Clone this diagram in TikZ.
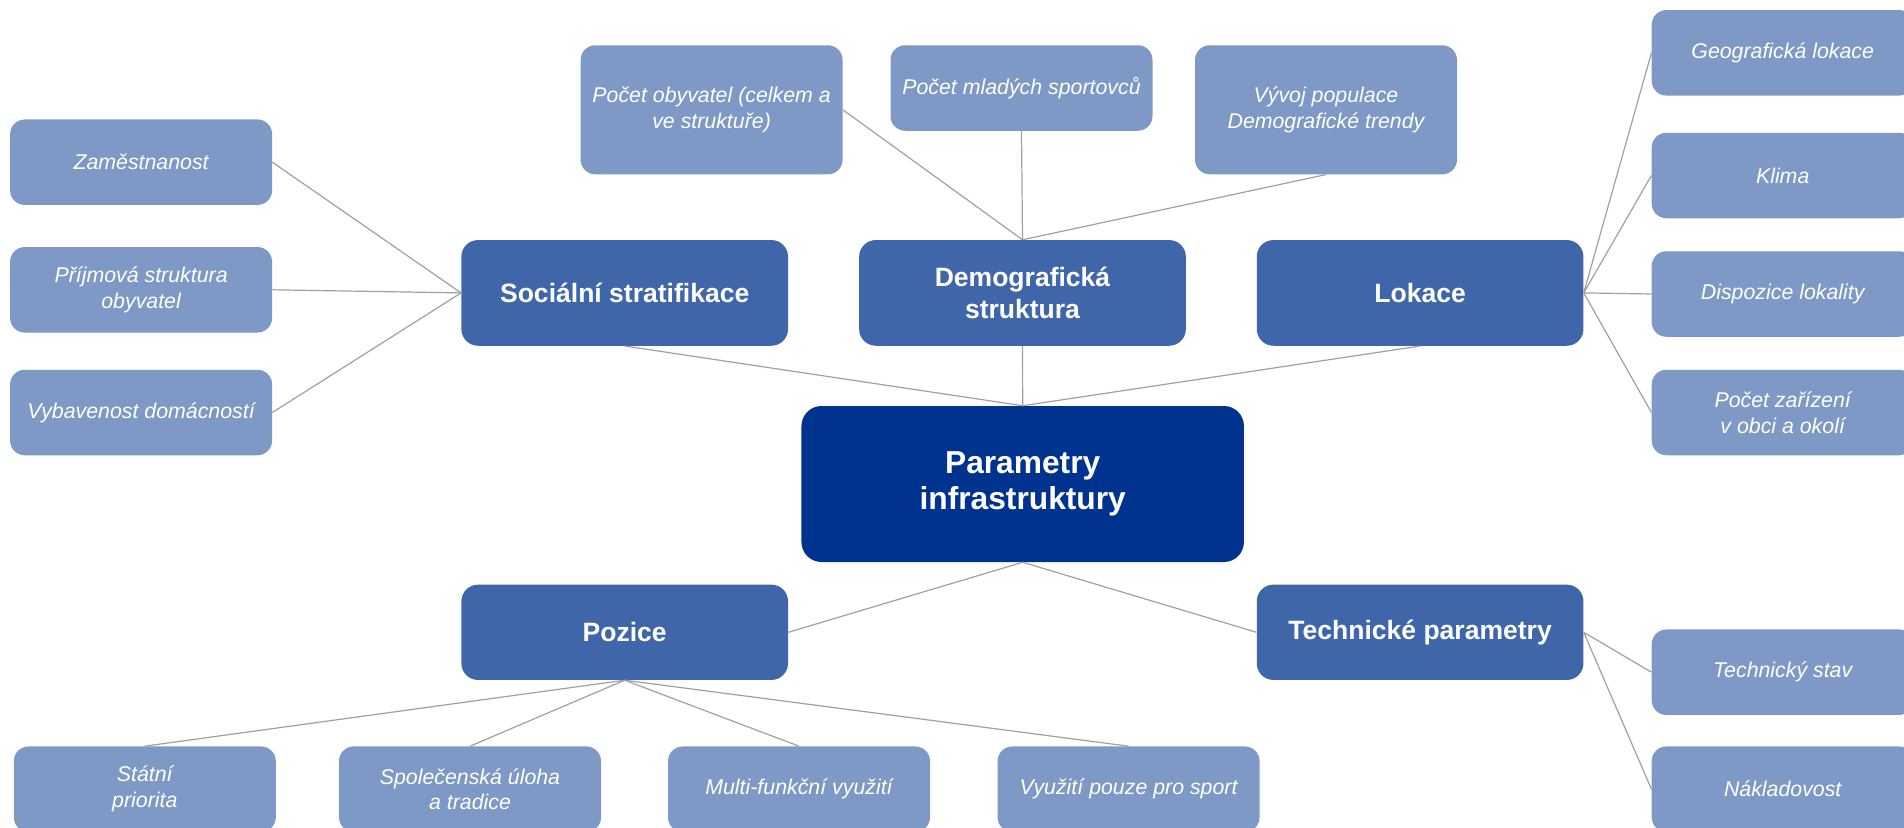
\documentclass[tikz,border=0pt]{standalone}
\usepackage{fontspec}
\setmainfont{Liberation Sans}
\definecolor{cSmall}{HTML}{7F99C6}
\definecolor{cMid}{HTML}{4066AA}
\definecolor{cMain}{HTML}{00338F}
\definecolor{cLine}{HTML}{A0A0A0}
\begin{document}
\begin{tikzpicture}[x=0.75pt,y=-0.75pt,
  smallbox/.style={fill=cSmall,draw=none,rounded corners=11pt,text=white,align=center,
    minimum width=262pt*0.75,minimum height=85.5pt*0.75,inner sep=0pt,
    font=\fontsize{16}{19.3}\selectfont\itshape},
  midbox/.style={fill=cMid,draw=none,rounded corners=12.5pt,text=white,align=center,
    minimum width=326.7pt*0.75,minimum height=105.7pt*0.75,inner sep=0pt,
    font=\fontsize{19.9}{23.7}\selectfont\bfseries},
  mainbox/.style={fill=cMain,draw=none,rounded corners=15pt,text=white,align=center,
    minimum width=442.5pt*0.75,minimum height=156pt*0.75,inner sep=0pt,
    font=\fontsize{23.8}{27.3}\selectfont\bfseries},
  link/.style={draw=cLine,line width=0.9pt}]
\useasboundingbox (0,0) rectangle (1904,828);
\clip (0,0) rectangle (1904,828);
% central
\node[mainbox] (main) at (1022.7,484) {Parametry\\infrastruktury};
% mid
\node[midbox] (soc) at (624.7,292.9) {Sociální stratifikace};
\node[midbox] (dem) at (1022.5,292.9) {Demografická\\struktura};
\node[midbox] (lok) at (1420.1,292.9) {Lokace};
\node[midbox,minimum height=95.3pt*0.75] (poz) at (624.7,632.3) {Pozice};
\node[midbox,minimum height=95.3pt*0.75] (tec) at (1420.1,632.3) {Technické parametry};
% left
\node[smallbox] (zam) at (141.1,162.2) {Zaměstnanost};
\node[smallbox] (pri) at (141.1,289.8) {Příjmová struktura\\obyvatel};
\node[smallbox] (vyb) at (141.1,412.5) {Vybavenost domácností};
% top
\node[smallbox,minimum height=129pt*0.75] (pob) at (711.6,109.8) {Počet obyvatel (celkem a\\ve struktuře)};
\node[smallbox] (pml) at (1021.5,88) {Počet mladých sportovců};
\node[smallbox,minimum height=129pt*0.75] (vyv) at (1326,109.8) {Vývoj populace\\Demografické trendy};
% right
\node[smallbox] (geo) at (1782.7,52.8) {Geografická lokace};
\node[smallbox] (kli) at (1782.7,175.5) {Klima};
\node[smallbox] (dis) at (1782.7,294) {Dispozice lokality};
\node[smallbox] (poc) at (1782.7,412.5) {Počet zařízení\\v obci a okolí};
\node[smallbox] (tst) at (1782.7,672.2) {Technický stav};
\node[smallbox] (nak) at (1782.7,789.2) {Nákladovost};
% bottom
\node[smallbox] (sta) at (144.8,789.2) {Státní\\priorita};
\node[smallbox] (spo) at (470,789.2) {Společenská úloha\\a tradice};
\node[smallbox] (mul) at (799,789.2) {Multi-funkční využití};
\node[smallbox] (vyu) at (1128.6,789.2) {Využití pouze pro sport};
% connectors
\draw[link] (soc.west) -- (zam.east);
\draw[link] (soc.west) -- (pri.east);
\draw[link] (soc.west) -- (vyb.east);
\draw[link] (dem.north) -- (pob.east);
\draw[link] (dem.north) -- (pml.south);
\draw[link] (dem.north) -- (vyv.south);
\draw[link] (lok.east) -- (geo.west);
\draw[link] (lok.east) -- (kli.west);
\draw[link] (lok.east) -- (dis.west);
\draw[link] (lok.east) -- (poc.west);
\draw[link] (main.north) -- (soc.south);
\draw[link] (main.north) -- (dem.south);
\draw[link] (main.north) -- (lok.south);
\draw[link] (main.south) -- (poz.east);
\draw[link] (main.south) -- (tec.west);
\draw[link] (poz.south) -- (sta.north);
\draw[link] (poz.south) -- (spo.north);
\draw[link] (poz.south) -- (mul.north);
\draw[link] (poz.south) -- (vyu.north);
\draw[link] (tec.east) -- (tst.west);
\draw[link] (tec.east) -- (nak.west);
\end{tikzpicture}
\end{document}
